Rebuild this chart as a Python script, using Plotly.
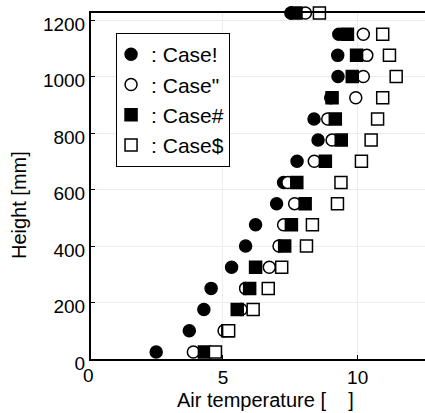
import plotly.graph_objects as go

heights = [25, 100, 175, 250, 325, 400, 475, 550, 625, 700, 775, 850, 925, 1000, 1075, 1150, 1225]
case1 = [2.52, 3.75, 4.29, 4.56, 5.32, 5.84, 6.21, 6.99, 7.25, 7.75, 8.53, 8.38, 9.00, 9.27, 9.26, 9.30, 7.52]
case2 = [3.90, 5.04, 5.67, 5.84, 6.72, 7.08, 7.25, 7.66, 7.41, 8.39, 9.05, 8.89, 9.93, 10.21, 10.34, 10.21, 8.06]
case3 = [4.31, 5.18, 5.53, 5.99, 6.21, 7.29, 7.54, 8.05, 7.74, 8.80, 9.39, 9.17, 9.05, 9.80, 9.96, 9.62, 7.71]
case4 = [4.72, 5.21, 6.12, 6.68, 7.18, 8.10, 8.32, 9.25, 9.38, 10.14, 10.50, 10.74, 10.93, 11.43, 11.18, 10.93, 8.58]

names = [": Case!", ": Case\"", ": Case#", ": Case$"]
series = [case1, case2, case3, case4]
symbols = ["circle", "circle", "square", "square"]
fills = ["black", "white", "black", "white"]

x_ticks = [5, 10]
y_ticks = [0, 200, 400, 600, 800, 1000, 1200]
x_title = "Air temperature [\u00a0\u00a0\u00a0\u00a0]"
y_title = "Height [mm]"

fig = go.Figure()
for name, vals, sym, fc in zip(names, series, symbols, fills):
    fig.add_trace(go.Scatter(
        x=vals, y=heights, mode="markers", name=name,
        marker=dict(symbol=sym, size=12, color=fc,
                    line=dict(color="black", width=1.5)),
        cliponaxis=False,
    ))

family = "Liberation Sans, Arial, sans-serif"
font = dict(family=family, size=19, color="black")
title_font = dict(family=family, size=20, color="black")

fig.update_layout(
    width=425, height=413,
    margin=dict(l=91, r=0, t=13, b=54, pad=0, autoexpand=False),
    paper_bgcolor="white", plot_bgcolor="white",
    font=font,
    showlegend=True,
    legend=dict(
        x=0.075, y=0.942, xanchor="left", yanchor="top",
        bgcolor="white", bordercolor="black", borderwidth=1,
        font=dict(family=family, size=21, color="black"),
        itemwidth=30, indentation=-6,
    ),
    xaxis=dict(
        range=[0.1, 12.5], tickvals=x_ticks, ticktext=[str(v) for v in x_ticks],
        showgrid=True, gridcolor="#ececec", gridwidth=1,
        showline=True, linecolor="black", linewidth=2, mirror=True,
        ticks="inside", ticklen=4, tickcolor="black",
        zeroline=False, automargin=False,
    ),
    yaxis=dict(
        range=[0, 1225], tickvals=y_ticks, ticktext=[str(v) for v in y_ticks],
        showgrid=True, gridcolor="#ececec", gridwidth=1,
        showline=True, linecolor="black", linewidth=2,
        ticks="inside", ticklen=4, tickcolor="black",
        zeroline=False, automargin=False,
        ticklabelshift=4,
    ),
    annotations=[
        dict(text="0", xref="paper", yref="paper", x=-0.006, y=0,
             xanchor="center", yanchor="top", yshift=-4, showarrow=False, font=font),
        dict(text=x_title, xref="paper", yref="paper", x=0.521, y=-0.1185,
             xanchor="center", yanchor="middle", showarrow=False, font=title_font),
        dict(text=y_title, xref="paper", yref="paper", x=-0.2156, y=0.445,
             xanchor="center", yanchor="middle", textangle=-90, showarrow=False, font=title_font),
    ],
)

fig.write_html("out.html", config={"displayModeBar": False},
               post_script="document.body.style.margin='0px';document.body.style.padding='0px';")
